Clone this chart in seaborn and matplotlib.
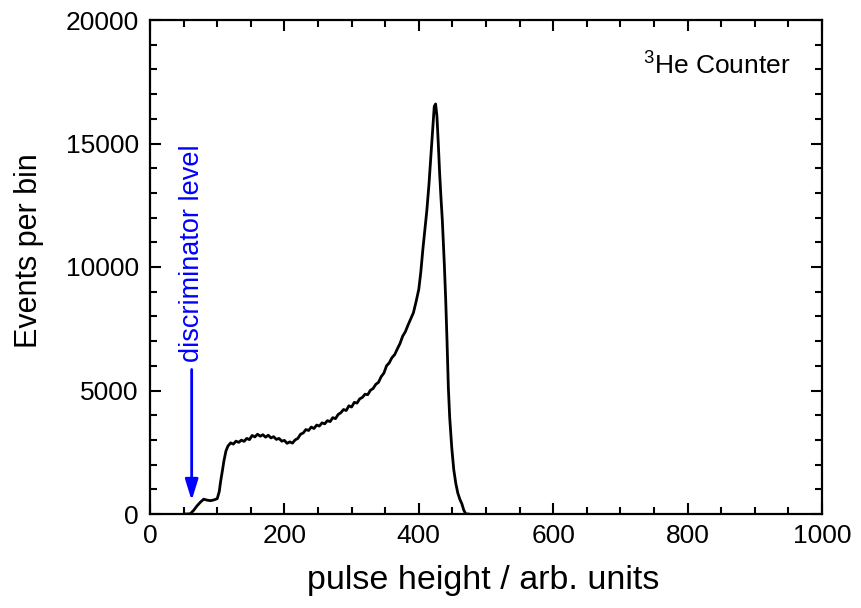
import matplotlib
matplotlib.use("Agg")
import matplotlib.pyplot as plt
import seaborn as sns
import pandas as pd
from matplotlib.ticker import MultipleLocator

pulse_height = [50, 55, 60, 65, 70, 75, 80, 85, 90, 95, 100, 103, 105, 108, 110, 113, 116,
                120, 124, 128, 132, 136, 140, 144, 148, 152, 156, 160, 164, 168, 172, 176, 180,
                184, 188, 192, 196, 200, 204, 208, 212, 216, 220, 224, 228, 232, 236, 240, 244,
                248, 252, 256, 260, 264, 268, 272, 276, 280, 284, 288, 292, 296, 300, 304, 308,
                312, 316, 320, 324, 328, 332, 336, 340, 344, 348, 352, 356, 360, 364, 368, 372,
                376, 380, 384, 388, 392, 396, 400, 403, 406, 409, 412, 415, 418, 421, 423, 425,
                427, 429, 431, 433, 435, 438, 440, 442, 444, 446, 449, 452, 455, 458, 461, 464,
                467, 470, 475]
events = [0, 0, 10, 150, 330, 480, 600, 560, 540, 570, 620, 900, 1300, 1800, 2150, 2550, 2750,
          2880, 2830, 2950, 2900, 2990, 2940, 3060, 3010, 3180, 3120, 3230, 3150, 3210, 3110, 3190, 3080,
          3130, 3020, 3060, 2950, 2980, 2860, 2920, 2870, 3000, 3060, 3230, 3280, 3420, 3380, 3520, 3460,
          3600, 3560, 3690, 3650, 3780, 3740, 3900, 3860, 4030, 4100, 4230, 4190, 4380, 4330, 4520, 4490,
          4660, 4720, 4850, 4830, 5010, 5080, 5250, 5330, 5560, 5700, 6000, 6120, 6330, 6450, 6680, 6900,
          7200, 7380, 7650, 7900, 8150, 8600, 9100, 9800, 10700, 11500, 12300, 13300, 14500, 15700, 16500, 16600,
          16100, 15000, 13800, 12800, 11900, 10100, 8700, 7000, 5100, 3900, 2700, 1800, 1250, 850, 600, 420,
          150, 0, 0]

df = pd.DataFrame({"pulse height": pulse_height, "events": events})

sns.set_style("ticks")
plt.rcParams['font.family'] = ['Liberation Sans', 'DejaVu Sans']
plt.rcParams['mathtext.fontset'] = 'custom'
plt.rcParams['mathtext.rm'] = 'Liberation Sans'
plt.rcParams['mathtext.it'] = 'Liberation Sans'
for k in ["text.color", "axes.labelcolor", "xtick.color", "ytick.color", "axes.edgecolor"]:
    plt.rcParams[k] = "black"

fig = plt.figure(figsize=(8.62, 6.08), dpi=100)
ax = fig.add_axes([150/862, 1 - 514/608, 672/862, 494/608])

sns.lineplot(data=df, x="pulse height", y="events", ax=ax, color="black", linewidth=2)

ax.set_xlim(0, 1000)
ax.set_ylim(0, 20000)
ax.xaxis.set_major_locator(MultipleLocator(200))
ax.xaxis.set_minor_locator(MultipleLocator(50))
ax.yaxis.set_major_locator(MultipleLocator(5000))
ax.yaxis.set_minor_locator(MultipleLocator(1000))
ax.tick_params(which="both", direction="in", top=True, right=True, width=1.5,
               labelsize=19, colors="black")
ax.tick_params(which="major", length=8)
ax.tick_params(which="minor", length=5)
ax.tick_params(axis="x", pad=7)
ax.tick_params(axis="y", pad=8)
for s in ax.spines.values():
    s.set_linewidth(1.6)
    s.set_visible(True)
    s.set_color("black")

ax.set_xlabel("pulse height / arb. units", fontsize=24.5)
ax.set_ylabel("Events per bin", fontsize=22)
ax.xaxis.set_label_coords(0.496, -0.103)
ax.yaxis.set_label_coords(-0.157, 0.534)

ax.text(734, 18130, r"$^{3}$He Counter", fontsize=19, va="center", ha="left")

ax.annotate("", xy=(62, 550), xytext=(62, 5850),
            arrowprops=dict(arrowstyle="-|>,head_length=0.9,head_width=0.28", color="blue",
                            lw=2, mutation_scale=14, shrinkA=0, shrinkB=0))
ax.text(62, 6150, "discriminator level", color="blue", fontsize=19.5, rotation=90,
        ha="center", va="bottom")

fig.savefig("out.png", dpi=100)
